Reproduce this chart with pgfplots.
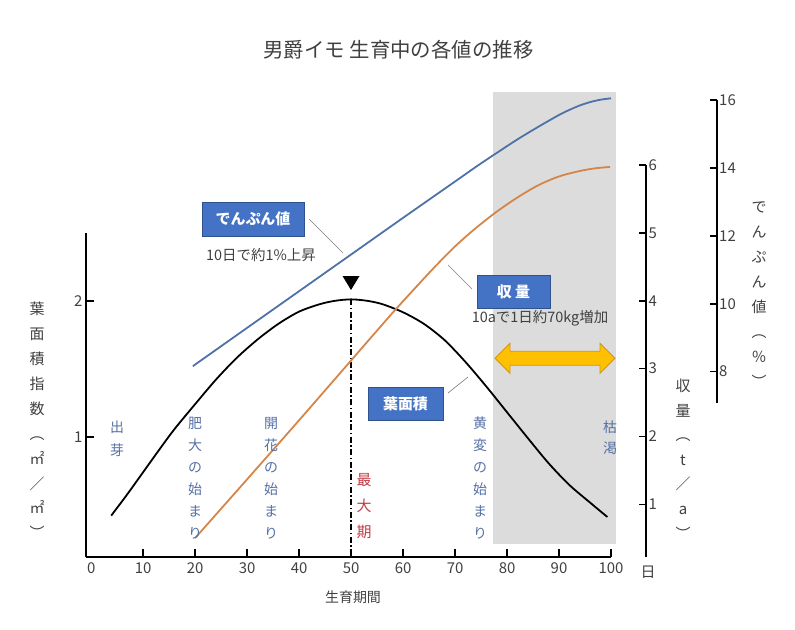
\documentclass[border=0pt]{standalone}
\usepackage{fontspec}
\setmainfont{Noto Sans CJK JP}
\usepackage{pgfplots}
\pgfplotsset{compat=1.18}

\definecolor{txt}{RGB}{64,64,64}
\definecolor{lblue}{RGB}{78,113,168}
\definecolor{lorange}{RGB}{214,133,72}
\definecolor{boxblue}{RGB}{68,114,196}
\definecolor{boxedge}{RGB}{47,82,143}
\definecolor{stage}{RGB}{84,112,165}
\definecolor{redt}{RGB}{192,60,70}
\definecolor{bggray}{RGB}{220,220,220}
\definecolor{gold}{RGB}{255,192,0}
\definecolor{goldedge}{RGB}{205,150,30}

\pgfplotsset{
  common/.style={
    scale only axis, anchor=south west,
    /pgf/number format/assume math mode=true,
    tick label style={font=\fontsize{15}{15}\selectfont, text=txt},
    axis line style={line width=1.6bp, black},
    tick style={line width=1.6bp, black},
    tick align=inside, major tick length=8bp,
    clip=false,
  }
}

\begin{document}
\begin{tikzpicture}
\useasboundingbox (0,0) rectangle (795bp,-630bp);

\begin{scope}[x=1bp,y=-1bp]
\fill[bggray] (492.7,92) rectangle (615.7,544.3);
\end{scope}

% ---- leaf area index (left axis, bottom axis)
\begin{axis}[common,
  width=525bp, height=323.7bp, at={(86bp,-556.7bp)},
  xmin=-1, xmax=100, ymin=0.118, ymax=2.498,
  axis lines*=left,
  xtick={10,20,...,100}, ytick={1,2},
  extra x ticks={0}, extra x tick style={major tick length=0pt},
  xticklabel style={yshift=-2bp},
]
\addplot[black, line width=1.8bp, smooth] coordinates {
 (3.85,0.42) (7,0.58) (10,0.74) (13,0.90) (16,1.055) (20,1.24) (24,1.42)
 (28,1.58) (32,1.715) (36,1.83) (40,1.92) (44,1.975) (47,2.0) (50,2.01)
 (53,2.0) (56,1.975) (60,1.915) (64,1.83) (68,1.71) (72,1.55) (76,1.37)
 (80,1.18) (84,0.99) (88,0.805) (92,0.645) (96,0.515) (99.3,0.41)};
\draw[black, line width=1.6bp, dash pattern=on 6bp off 2.5bp on 1.5bp off 2.5bp]
  (axis cs:50,2.01) -- (axis cs:50,0.118);
\end{axis}

% ---- yield (hidden plotting axis)
\begin{axis}[common, hide axis,
  width=525bp, height=323.7bp, at={(86bp,-556.7bp)},
  xmin=-1, xmax=100, ymin=0.2297, ymax=4.997]
\addplot[lorange, line width=1.8bp, smooth] coordinates {
 (20,0.505) (30,1.37) (40,2.24) (50,3.12) (57.5,3.78) (62,4.16) (66,4.49)
 (70,4.80) (74,5.07) (78,5.31) (82,5.52) (86,5.70) (90,5.83) (94,5.91)
 (97,5.95) (99.8,5.97)};
\end{axis}

% ---- starch (hidden plotting axis)
\begin{axis}[common, hide axis,
  width=525bp, height=323.7bp, at={(86bp,-556.7bp)},
  xmin=-1, xmax=100, ymin=2.548, ymax=12.083]
\addplot[lblue, line width=1.8bp, smooth] coordinates {
 (19.55,8.16) (30,9.29) (40,10.37) (50,11.45) (60,12.53) (70,13.60) (74,14.03)
 (78,14.44) (82,14.84) (86,15.21) (90,15.56) (92,15.71) (94,15.84) (96,15.94)
 (98,16.01) (100,16.05)};
\end{axis}

% ---- visible yield axis
\begin{axis}[common,
  width=10bp, height=391.7bp, at={(636bp,-556.7bp)},
  xmin=0, xmax=1, ymin=0.2297, ymax=6,
  axis x line=none, axis y line*=right, xtick=\empty,
  ytick={1,2,...,6}, major tick length=7bp,
  yticklabel style={anchor=west, xshift=-1bp},
]
\end{axis}

% ---- visible starch axis
\begin{axis}[common,
  width=10bp, height=302.7bp, at={(706.7bp,-402.7bp)},
  xmin=0, xmax=1, ymin=7.084, ymax=16,
  axis x line=none, axis y line*=right, xtick=\empty,
  ytick={8,10,...,16}, major tick length=7bp,
  yticklabel style={anchor=west, xshift=-1bp},
]
\end{axis}

\begin{scope}[x=1bp,y=-1bp]
% title
\node[text=txt, font=\fontsize{20.5}{20.5}\selectfont] at (398.5,50) {男爵イモ 生育中の各値の推移};
% axis labels
\node[text=txt, font=\fontsize{14}{14}\selectfont] at (353,597) {生育期間};
\node[text=txt, font=\fontsize{15}{15}\selectfont] at (648,572) {日};
\node[text=txt, align=center, font=\fontsize{15}{25}\selectfont] at (37,420.5)
  {葉\\面\\積\\指\\数\\︵\\㎡\\／\\㎡\\︶};
\node[text=txt, align=center, font=\fontsize{15}{24.7}\selectfont] at (683,459)
  {収\\量\\︵\\t\\／\\a\\︶};
\node[text=txt, align=center, font=\fontsize{15}{25.1}\selectfont] at (759,295)
  {で\\ん\\ぷ\\ん\\値\\︵\\％\\︶};
% stage labels
\node[text=stage, align=center, font=\fontsize{14}{23}\selectfont] at (117,438.5) {出\\芽};
\node[text=stage, align=center, font=\fontsize{14}{22}\selectfont] at (195,478) {肥\\大\\の\\始\\ま\\り};
\node[text=stage, align=center, font=\fontsize{14}{22}\selectfont] at (271,478) {開\\花\\の\\始\\ま\\り};
\node[text=stage, align=center, font=\fontsize{14}{22}\selectfont] at (480,478) {黄\\変\\の\\始\\ま\\り};
\node[text=stage, align=center, font=\fontsize{14}{21}\selectfont] at (610,437.5) {枯\\渇};
\node[text=redt, align=center, font=\fontsize{15}{26}\selectfont] at (364,506) {最\\大\\期};
% triangle
\fill[black] (342.5,276) -- (359.5,276) -- (351,290) -- cycle;
% double arrow
\draw[goldedge, fill=gold, line width=0.8bp]
  (495,358.3) -- (510,343.3) -- (510,351.3) -- (600,351.3) -- (600,343.3)
  -- (615,358.3) -- (600,373.3) -- (600,365.3) -- (510,365.3) -- (510,373.3) -- cycle;
% leader lines
\draw[gray, line width=0.7bp] (309,219) -- (343,253);
\draw[gray, line width=0.7bp] (448,265) -- (472,289);
\draw[gray, line width=0.7bp] (448,393) -- (468,377);
% boxes
\node[fill=boxblue, draw=boxedge, line width=0.6bp, minimum width=102bp, minimum height=34bp,
      text=white, font=\fontsize{15}{15}\selectfont\bfseries] at (253,219) {でんぷん値};
\node[fill=boxblue, draw=boxedge, line width=0.6bp, minimum width=73bp, minimum height=33bp,
      text=white, font=\fontsize{15}{15}\selectfont\bfseries] at (513.5,291.5) {収 量};
\node[fill=boxblue, draw=boxedge, line width=0.6bp, minimum width=75bp, minimum height=33bp,
      text=white, font=\fontsize{15}{15}\selectfont\bfseries] at (405.5,403.5) {葉面積};
% notes
\node[text=txt, font=\fontsize{14.5}{14.5}\selectfont] at (261,255) {10日で約1\%上昇};
\node[text=txt, font=\fontsize{14.5}{14.5}\selectfont] at (540,318) {10aで1日約70kg増加};
\end{scope}
\end{tikzpicture}
\end{document}
